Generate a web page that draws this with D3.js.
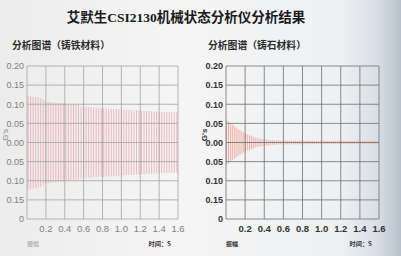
<!DOCTYPE html>
<html><head><meta charset="utf-8">
<script src="https://cdn.jsdelivr.net/npm/d3@7/dist/d3.min.js"></script>
<style>html,body{margin:0;padding:0;background:#f1f1f1;}svg{display:block;}</style>
</head><body>
<script>
const title = "艾默生CSI2130机械状态分析仪分析结果";
const panelTitles = ["分析图谱（铸铁材料）", "分析图谱（铸石材料）"];
const xTicks = [0.2, 0.4, 0.6, 0.8, 1.0, 1.2, 1.4, 1.6];
const yTicks = [0.20, 0.15, 0.10, 0.05, 0.00, -0.05, -0.10, -0.15, -0.20];
const yTickLabels = ["0.20", "0.15", "0.10", "0.05", "0.00", "0.05", "0.10", "0.15", "0"];
const yLabel = "G's";
const ampLabel = "振幅";
const timeLabel = "时间：S";
// amplitude envelopes (G's) of each sampled impulse
const ampCastIron = [
  0.123,0.121,0.120,0.119,0.118,0.116,
  0.112,0.108,0.106,
  0.105,0.104,0.104,0.103,0.102,0.102,0.101,0.100,0.100,0.099,0.098,0.097,
  0.094,0.093,0.093,0.092,0.092,0.091,0.091,0.090,0.090,0.090,0.089,0.089,0.088,0.088,0.088,0.087,
  0.086,0.086,0.085,0.085,0.085,0.084,0.084,0.084,
  0.083,0.083,0.082,0.082,0.082,0.081,0.081,0.081,0.080,0.080,0.080,0.080,0.079,0.079,0.079
];
const ampCastStone = [
  0.058,0.055,0.051,0.047,0.043,0.039,0.035,0.032,0.029,0.026,
  0.023,0.021,0.019,0.017,0.015,0.013,0.012,0.011,0.010,0.009,
  0.008,0.0075,0.007,0.0065,0.006,0.006,0.0055,0.0055,0.005,0.005,
  0.005,0.005,0.0048,0.0048,0.0046,0.0046,0.0045,0.0045,0.0045,0.0044,
  0.0044,0.0043,0.0043,0.0043,0.0042,0.0042,0.0042,0.0042,0.0041,0.0041,
  0.0041,0.0041,0.004,0.004,0.004,0.004,0.004,0.004,0.004,0.004,
  0.004,0.004,0.004,0.004,0.0039,0.0039,0.0039,0.0039,0.0039,0.0039,
  0.0038,0.0038,0.0038,0.0038,0.0038,0.0038,0.0038,0.0038,0.0038,0.0038
];

const W = 401, H = 256;
const svg = d3.select("body").append("svg").attr("width", W).attr("height", H);
const defs = svg.append("defs");
const g = defs.append("linearGradient").attr("id", "bg").attr("x1", 0).attr("x2", 1).attr("y1", 0).attr("y2", 0);
g.append("stop").attr("offset", 0).attr("stop-color", "#ececec");
g.append("stop").attr("offset", 0.45).attr("stop-color", "#f5f5f5");
g.append("stop").attr("offset", 0.85).attr("stop-color", "#eef0f2");
g.append("stop").attr("offset", 0.94).attr("stop-color", "#d9dfe5");
g.append("stop").attr("offset", 1).attr("stop-color", "#b7c1cb");
svg.append("rect").attr("width", W).attr("height", H).attr("fill", "url(#bg)");

svg.append("text").attr("x", 186).attr("y", 22).attr("text-anchor", "middle")
  .attr("font-family", "'Liberation Serif','Noto Sans CJK SC',serif").attr("font-weight", 700)
  .attr("font-size", 13.5).attr("fill", "#1a1a1a").text(title);

const panels = [
  {x0: 27, x1: 178, data: ampCastIron, step: 0.0267, t0: 0.012, line: "#e9a9b2", lw: 0.8,
   grid: "#a3a3a3", lab: "#808080", labW: 400, titleX: 12, yLabX: 8, tickEnd: 24, ampCol: "#999", ampW: 400},
  {x0: 226, x1: 379, data: ampCastStone, step: 0.02, t0: 0.006, line: "#f0a89c", lw: 0.9,
   grid: "#6e6e6e", lab: "#333", labW: 700, titleX: 208, yLabX: 207, tickEnd: 223, ampCol: "#333", ampW: 700}
];
const yTop = 66, yBot = 219;

panels.forEach((p, k) => {
  const x = d3.scaleLinear().domain([0, 1.6]).range([p.x0, p.x1]);
  const y = d3.scaleLinear().domain([-0.2, 0.2]).range([yBot, yTop]);
  const gp = svg.append("g");

  gp.append("text").attr("x", p.titleX).attr("y", 49)
    .attr("font-family", "'Noto Sans CJK SC',sans-serif").attr("font-weight", 700)
    .attr("font-size", 9.8).attr("fill", "#2b2b2b").text(panelTitles[k]);

  // signal
  gp.append("g").selectAll("line").data(p.data).join("line")
    .attr("x1", (d, i) => x(p.t0 + i * p.step)).attr("x2", (d, i) => x(p.t0 + i * p.step))
    .attr("y1", d => y(d)).attr("y2", d => y(-d))
    .attr("stroke", p.line).attr("stroke-width", p.lw);

  // grid
  gp.append("g").selectAll("line").data(yTicks).join("line")
    .attr("x1", p.x0).attr("x2", p.x1).attr("y1", d => y(d)).attr("y2", d => y(d))
    .attr("stroke", p.grid).attr("stroke-width", 0.8);
  gp.append("g").selectAll("line").data([0].concat(xTicks)).join("line")
    .attr("x1", d => x(d)).attr("x2", d => x(d)).attr("y1", yTop).attr("y2", yBot)
    .attr("stroke", p.grid).attr("stroke-width", 0.8);

  // y tick labels
  gp.append("g").selectAll("text").data(yTicks).join("text")
    .attr("x", p.tickEnd).attr("y", d => y(d) + 3.3).attr("text-anchor", "end")
    .attr("font-family", "'Liberation Sans',Arial,sans-serif").attr("font-size", 9)
    .attr("font-weight", p.labW).attr("fill", p.lab)
    .text((d, i) => yTickLabels[i]);
  // x tick labels
  gp.append("g").selectAll("text").data(xTicks).join("text")
    .attr("x", d => x(d)).attr("y", 232).attr("text-anchor", "middle")
    .attr("font-family", "'Liberation Sans',Arial,sans-serif").attr("font-size", 9.5)
    .attr("font-weight", p.labW).attr("fill", p.lab)
    .text(d => d.toFixed(1));
  // y label
  gp.append("text").attr("transform", `translate(${p.yLabX},${y(0.02)}) rotate(-90)`)
    .attr("text-anchor", "middle").attr("font-family", "'Liberation Sans',Arial,sans-serif")
    .attr("font-size", 8).attr("font-weight", p.labW).attr("fill", p.lab).text(yLabel);
  // bottom labels
  gp.append("text").attr("x", p.x0).attr("y", 246)
    .attr("font-family", "'Noto Sans CJK SC',sans-serif").attr("font-size", 6)
    .attr("font-weight", p.ampW).attr("fill", p.ampCol).text(ampLabel);
  gp.append("text").attr("x", p.x1 - 7).attr("y", 246).attr("text-anchor", "end")
    .attr("font-family", "'Noto Sans CJK SC',sans-serif").attr("font-size", 6.2)
    .attr("font-weight", 700).attr("fill", "#333").text(timeLabel);
});
</script>
</body></html>
